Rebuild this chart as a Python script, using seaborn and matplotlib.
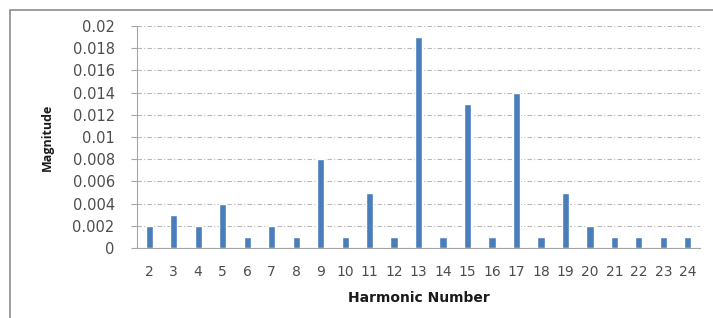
import pandas as pd
import matplotlib.pyplot as plt
import seaborn as sns
from matplotlib.patches import Rectangle

# Harmonic spectrum values
harmonics = [str(h) for h in range(2, 25)]
magnitude = [0.002, 0.003, 0.002, 0.004, 0.001, 0.002, 0.001, 0.008, 0.001, 0.005,
             0.001, 0.019, 0.001, 0.013, 0.001, 0.014, 0.001, 0.005, 0.002, 0.001,
             0.001, 0.001, 0.001]
y_ticks = [0, 0.002, 0.004, 0.006, 0.008, 0.01, 0.012, 0.014, 0.016, 0.018, 0.02]
y_tick_labels = ['0', '0.002', '0.004', '0.006', '0.008', '0.01', '0.012',
                 '0.014', '0.016', '0.018', '0.02']

df = pd.DataFrame({'harmonic': harmonics, 'magnitude': magnitude})

sns.set_style('white')
plt.rcParams['font.family'] = ['DejaVu Sans']

fig = plt.figure(figsize=(7.13, 3.18), dpi=100)
ax = fig.add_axes([0.192, 0.220, 0.790, 0.698])

# Outer chart border (cropped on the right and bottom)
fig.patches.append(Rectangle((0.014, -0.05), 1.1, 1.019, transform=fig.transFigure,
                             fill=False, edgecolor='#8c8c8c', linewidth=1.2))

sns.barplot(data=df, x='harmonic', y='magnitude', color='#4a7ebb', width=0.29,
            saturation=1, ax=ax, zorder=3)

ax.set_ylim(0, 0.02)
ax.set_yticks(y_ticks)
ax.set_yticklabels(y_tick_labels)
ax.set_xlim(-0.5, len(harmonics) - 0.5)

ax.yaxis.grid(True, color='#b8b8b8', linestyle=(0, (4, 2, 1, 2)), linewidth=0.8, zorder=0)
ax.xaxis.grid(False)

for side in ['top', 'right']:
    ax.spines[side].set_visible(False)
ax.spines['left'].set_color('#a6a6a6')
ax.spines['bottom'].set_color('#a6a6a6')

ax.tick_params(axis='y', left=True, length=4, color='#a6a6a6', labelsize=10.5,
               labelcolor='#4d4d4d', pad=12)
ax.tick_params(axis='x', bottom=False, labelsize=10, labelcolor='#4d4d4d', pad=9)

ax.set_xlabel('Harmonic Number', fontsize=10, fontweight='bold', labelpad=8,
              color='#1a1a1a')
ax.set_ylabel('Magnitude', fontsize=9, fontweight='bold', labelpad=13,
              family='Open Sans', color='#1a1a1a')

plt.savefig('out.png', dpi=100)
